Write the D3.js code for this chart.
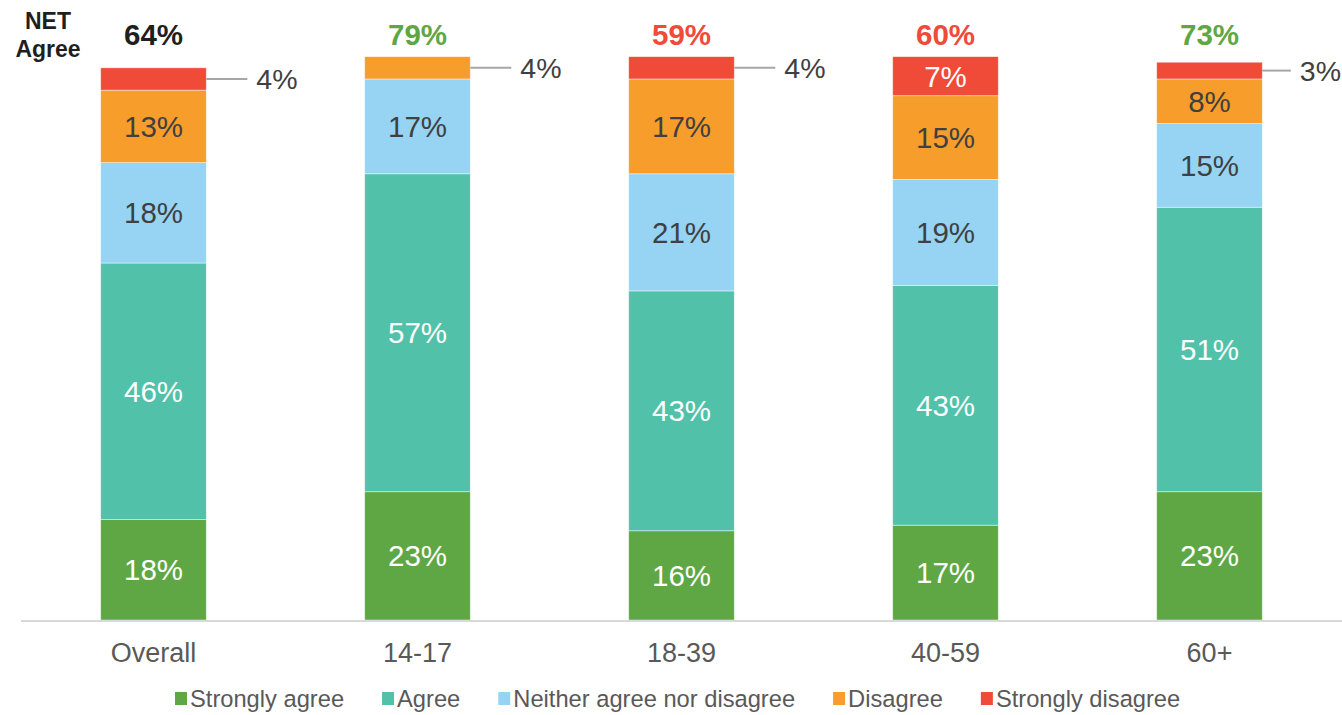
<!DOCTYPE html>
<html>
<head>
<meta charset="utf-8">
<script src="https://cdn.jsdelivr.net/npm/d3@7"></script>
<style>
  html, body { margin: 0; padding: 0; background: #fff; }
  svg { display: block; font-family: "Liberation Sans", Arial, sans-serif; }
</style>
</head>
<body>
<svg id="chart" width="1342" height="715"></svg>
<script>
// Age groups along the x axis
const categories = ["Overall", "14-17", "18-39", "40-59", "60+"];

// Response shares (%) per age group, bottom to top of each stack
const seriesNames = ["Strongly agree", "Agree", "Neither agree nor disagree", "Disagree", "Strongly disagree"];
const stronglyAgree    = [18, 23, 16, 17, 23];
const agree            = [46, 57, 43, 43, 51];
const neither          = [18, 17, 21, 19, 15];
const disagree         = [13, 4, 17, 15, 8];
const stronglyDisagree = [4, 0, 4, 7, 3];

// NET agree headline per group
const netAgree = [64, 79, 59, 60, 73];
const netTone  = ["neutral", "good", "bad", "bad", "good"];

const seriesValues = [stronglyAgree, agree, neither, disagree, stronglyDisagree];
const colors = ["#5fa744", "#52c1a9", "#97d3f3", "#f79d2b", "#f04a38"];
const labelColors = ["#ffffff", "#ffffff", "#404040", "#404040", "#ffffff"];
const netColors = { neutral: "#1f1f1f", good: "#5fa744", bad: "#f04a38" };

const W = 1342, H = 715;
const svg = d3.select("#chart");

const rows = categories.map((c, i) => {
  const r = { cat: c };
  seriesNames.forEach((s, k) => r[s] = seriesValues[k][i]);
  return r;
});
const stacked = d3.stack().keys(seriesNames)(rows);

const x = d3.scaleBand().domain(categories)
  .range([21.5, 1341.5]).paddingInner(0.6).paddingOuter(0.3);
const y = d3.scaleLinear().domain([0, 100.4]).range([620, 60]);

// Stacked segments
const layers = svg.append("g").selectAll("g").data(stacked).join("g")
  .attr("fill", (d, k) => colors[k]);

layers.selectAll("rect").data(d => d.filter(p => p[1] - p[0] > 0)).join("rect")
  .attr("x", d => x(d.data.cat))
  .attr("width", x.bandwidth())
  .attr("y", d => y(d[1]))
  .attr("height", d => y(d[0]) - y(d[1]))
  .attr("stroke", "#ffffff").attr("stroke-opacity", 0.55).attr("stroke-width", 0.8);

// Baseline
svg.append("line")
  .attr("x1", 21).attr("x2", W).attr("y1", y(0) + 1).attr("y2", y(0) + 1)
  .attr("stroke", "#d9d9d9").attr("stroke-width", 2);

// Value labels: inside large segments, leader line for small ones
const labelFont = 29.5;
stacked.forEach((layer, k) => {
  layer.forEach(p => {
    const v = p[1] - p[0];
    if (v <= 0) return;
    const cx = x(p.data.cat) + x.bandwidth() / 2;
    const cy = (y(p[0]) + y(p[1])) / 2;
    if (v >= 5) {
      svg.append("text")
        .attr("x", cx).attr("y", cy).attr("dy", "0.36em")
        .attr("text-anchor", "middle")
        .attr("font-size", labelFont)
        .attr("fill", labelColors[k])
        .text(v + "%");
    } else {
      const right = x(p.data.cat) + x.bandwidth();
      const t = svg.append("text")
        .attr("y", cy).attr("dy", "0.36em")
        .attr("font-size", 28.5)
        .attr("fill", "#404040")
        .text(v + "%");
      const tw = t.node().getComputedTextLength();
      const len = Math.min(41, W - right - tw - 10);
      svg.append("line")
        .attr("x1", right).attr("x2", right + len)
        .attr("y1", cy).attr("y2", cy)
        .attr("stroke", "#a6a6a6").attr("stroke-width", 2);
      t.attr("x", right + len + 9);
    }
  });
});

// NET agree headline
svg.append("text")
  .attr("x", 48).attr("y", 29)
  .attr("text-anchor", "middle").attr("font-size", 23).attr("font-weight", "bold")
  .attr("fill", "#1f1f1f")
  .selectAll("tspan").data(["NET", "Agree"]).join("tspan")
  .attr("x", 48).attr("dy", (d, i) => i ? 28 : 0)
  .text(d => d);

svg.append("g").selectAll("text").data(categories).join("text")
  .attr("x", c => x(c) + x.bandwidth() / 2)
  .attr("y", 45)
  .attr("text-anchor", "middle")
  .attr("font-size", 29.5).attr("font-weight", "bold")
  .attr("fill", (c, i) => netColors[netTone[i]])
  .text((c, i) => netAgree[i] + "%");

// Category axis labels
svg.append("g").selectAll("text").data(categories).join("text")
  .attr("x", c => x(c) + x.bandwidth() / 2)
  .attr("y", 662)
  .attr("text-anchor", "middle")
  .attr("font-size", 27)
  .attr("fill", "#595959")
  .text(c => c);

// Legend
const legend = svg.append("g").attr("transform", "translate(175,0)");
let lx = 0;
seriesNames.forEach((s, k) => {
  legend.append("rect")
    .attr("x", lx).attr("y", 692).attr("width", 12).attr("height", 13)
    .attr("fill", colors[k]);
  const t = legend.append("text")
    .attr("x", lx + 15).attr("y", 707)
    .attr("font-size", 23.7)
    .attr("fill", "#595959")
    .text(s);
  lx += 15 + t.node().getComputedTextLength() + 38;
});
</script>
</body>
</html>
